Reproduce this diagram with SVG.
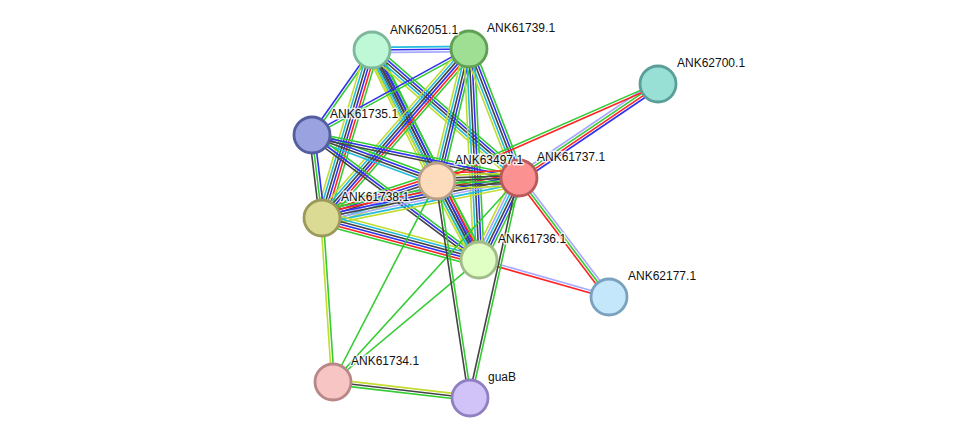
<svg xmlns="http://www.w3.org/2000/svg" width="975" height="444" viewBox="0 0 975 444">
<style>
#edges path{fill:none;stroke-width:1.6}
.g{stroke:#33cc33}.r{stroke:#ff2222}.b{stroke:#3030f0}.k{stroke:#444444}.c{stroke:#22bbdd}.y{stroke:#c2dc30}.l{stroke:#a8a8ff}
.node circle{stroke-width:2.8}
text{font-family:"Liberation Sans",Arial,sans-serif;font-size:12px;fill:#111;stroke:#fff;stroke-width:3;stroke-opacity:0.8;paint-order:stroke;stroke-linejoin:round}
</style>
<rect width="975" height="444" fill="#fff"/>
<g id="edges">
<!-- A-B -->
<g transform="translate(372,50) rotate(-0.59)"><path class="c" d="M0 -2.6H97"/><path class="b" d="M0 0H97"/><path class="l" d="M0 2.6H97"/></g>
<!-- A-D -->
<g transform="translate(372,50) rotate(125.22)"><path class="g" d="M0 -1.3H104"/><path class="b" d="M0 1.3H104"/></g>
<!-- A-G -->
<g transform="translate(372,50) rotate(106.57)"><path class="g" d="M0 -6.5H175.3"/><path class="r" d="M0 -3.9H175.3"/><path class="b" d="M0 -1.3H175.3"/><path class="k" d="M0 1.3H175.3"/><path class="c" d="M0 3.9H175.3"/><path class="y" d="M0 6.5H175.3"/></g>
<!-- A-E -->
<g transform="translate(372,50) rotate(63.61)"><path class="g" d="M0 -6.5H146.2"/><path class="b" d="M0 -3.9H146.2"/><path class="k" d="M0 -1.3H146.2"/><path class="k" d="M0 1.3H146.2"/><path class="c" d="M0 3.9H146.2"/><path class="y" d="M0 6.5H146.2"/></g>
<!-- A-H -->
<g transform="translate(372,50) rotate(63.0)"><path class="g" d="M0 -5.2H235.7"/><path class="b" d="M0 -2.6H235.7"/><path class="k" d="M0 0H235.7"/><path class="c" d="M0 2.6H235.7"/><path class="y" d="M0 5.2H235.7"/></g>
<!-- A-F -->
<g transform="translate(372,50) rotate(41.05)"><path class="g" d="M0 -5.2H194.9"/><path class="b" d="M0 -2.6H194.9"/><path class="k" d="M0 0H194.9"/><path class="c" d="M0 2.6H194.9"/><path class="y" d="M0 5.2H194.9"/></g>
<!-- B-D -->
<g transform="translate(469,49) rotate(151.29)"><path class="g" d="M0 -1.3H179"/><path class="b" d="M0 1.3H179"/></g>
<!-- B-G -->
<g transform="translate(469,49) rotate(131.02)"><path class="g" d="M0 -6.5H224"/><path class="r" d="M0 -3.9H224"/><path class="b" d="M0 -1.3H224"/><path class="k" d="M0 1.3H224"/><path class="c" d="M0 3.9H224"/><path class="y" d="M0 6.5H224"/></g>
<!-- B-E -->
<g transform="translate(469,49) rotate(103.63)"><path class="g" d="M0 -5.2H135.8"/><path class="b" d="M0 -2.6H135.8"/><path class="k" d="M0 0H135.8"/><path class="c" d="M0 2.6H135.8"/><path class="y" d="M0 5.2H135.8"/></g>
<!-- B-H -->
<g transform="translate(469,49) rotate(87.29)"><path class="g" d="M0 -5.2H211.2"/><path class="b" d="M0 -2.6H211.2"/><path class="k" d="M0 0H211.2"/><path class="c" d="M0 2.6H211.2"/><path class="y" d="M0 5.2H211.2"/></g>
<!-- B-F -->
<g transform="translate(469,49) rotate(68.82)"><path class="g" d="M0 -5.2H138.4"/><path class="b" d="M0 -2.6H138.4"/><path class="k" d="M0 0H138.4"/><path class="c" d="M0 2.6H138.4"/><path class="y" d="M0 5.2H138.4"/></g>
<!-- F-C -->
<g transform="translate(519,178) rotate(-34.07)"><path class="l" d="M0 -3.9H167.8"/><path class="g" d="M0 -1.3H167.8"/><path class="r" d="M0 1.3H167.8"/><path class="b" d="M0 3.9H167.8"/></g>
<!-- E-C -->
<g transform="translate(437,181) rotate(-23.69)"><path class="g" d="M0 -1.3H241.3"/><path class="r" d="M0 1.3H241.3"/></g>
<!-- F-I -->
<g transform="translate(519,178) rotate(52.89)"><path class="l" d="M0 -2.6H149.2"/><path class="g" d="M0 0H149.2"/><path class="r" d="M0 2.6H149.2"/></g>
<!-- H-I -->
<g transform="translate(479,260) rotate(15.89)"><path class="l" d="M0 -1.3H135.2"/><path class="r" d="M0 1.3H135.2"/></g>
<!-- D-G -->
<g transform="translate(312,135) rotate(83.13)"><path class="b" d="M0 -2.6H83.6"/><path class="g" d="M0 0H83.6"/><path class="k" d="M0 2.6H83.6"/></g>
<!-- D-E -->
<g transform="translate(312,135) rotate(20.2)"><path class="g" d="M0 -3.9H133.2"/><path class="b" d="M0 -1.3H133.2"/><path class="k" d="M0 1.3H133.2"/><path class="c" d="M0 3.9H133.2"/></g>
<!-- D-H -->
<g transform="translate(312,135) rotate(36.82)"><path class="g" d="M0 -2.6H208.6"/><path class="b" d="M0 0H208.6"/><path class="k" d="M0 2.6H208.6"/></g>
<!-- D-F -->
<g transform="translate(312,135) rotate(11.74)"><path class="g" d="M0 -2.6H211.4"/><path class="b" d="M0 0H211.4"/><path class="k" d="M0 2.6H211.4"/></g>
<!-- G-E -->
<g transform="translate(322,218) rotate(-17.84)"><path class="g" d="M0 -7.8H120.8"/><path class="r" d="M0 -5.2H120.8"/><path class="b" d="M0 -2.6H120.8"/><path class="k" d="M0 0H120.8"/><path class="l" d="M0 2.6H120.8"/><path class="c" d="M0 5.2H120.8"/><path class="y" d="M0 7.8H120.8"/></g>
<!-- G-F -->
<g transform="translate(322,218) rotate(-11.48)"><path class="g" d="M0 -7.8H201"/><path class="r" d="M0 -5.2H201"/><path class="b" d="M0 -2.6H201"/><path class="k" d="M0 0H201"/><path class="l" d="M0 2.6H201"/><path class="c" d="M0 5.2H201"/><path class="y" d="M0 7.8H201"/></g>
<!-- G-H -->
<g transform="translate(322,218) rotate(14.98)"><path class="y" d="M0 -6.5H162.5"/><path class="c" d="M0 -3.9H162.5"/><path class="k" d="M0 -1.3H162.5"/><path class="b" d="M0 1.3H162.5"/><path class="r" d="M0 3.9H162.5"/><path class="g" d="M0 6.5H162.5"/></g>
<!-- E-F -->
<g transform="translate(437,181) rotate(-2.1)"><path class="r" d="M0 -7.8H82"/><path class="y" d="M0 -5.2H82"/><path class="k" d="M0 -2.6H82"/><path class="k" d="M0 0H82"/><path class="g" d="M0 2.6H82"/><path class="k" d="M0 5.2H82"/><path class="y" d="M0 7.8H82"/></g>
<!-- E-H -->
<g transform="translate(437,181) rotate(62.0)"><path class="g" d="M0 -6.5H89.5"/><path class="r" d="M0 -3.9H89.5"/><path class="b" d="M0 -1.3H89.5"/><path class="k" d="M0 1.3H89.5"/><path class="c" d="M0 3.9H89.5"/><path class="y" d="M0 6.5H89.5"/></g>
<!-- F-H -->
<g transform="translate(519,178) rotate(116.0)"><path class="g" d="M0 -6.5H91.2"/><path class="b" d="M0 -3.9H91.2"/><path class="k" d="M0 -1.3H91.2"/><path class="c" d="M0 1.3H91.2"/><path class="l" d="M0 3.9H91.2"/><path class="y" d="M0 6.5H91.2"/></g>
<!-- G-J -->
<g transform="translate(322,218) rotate(86.16)"><path class="g" d="M0 -1.3H164.4"/><path class="y" d="M0 1.3H164.4"/></g>
<!-- J-K -->
<g transform="translate(333,382) rotate(6.66)"><path class="y" d="M0 -2.6H137.9"/><path class="k" d="M0 0H137.9"/><path class="g" d="M0 2.6H137.9"/></g>
<!-- J-E, J-F, J-H -->
<g transform="translate(333,382) rotate(-62.64)"><path class="g" d="M0 0H226.3"/></g>
<g transform="translate(333,382) rotate(-47.64)"><path class="g" d="M0 0H276.1"/></g>
<g transform="translate(333,382) rotate(-39.88)"><path class="g" d="M0 0H190.3"/></g>
<!-- E-K -->
<g transform="translate(437,181) rotate(81.35)"><path class="g" d="M0 -1.3H219.5"/><path class="k" d="M0 1.3H219.5"/></g>
<!-- F-K -->
<g transform="translate(519,178) rotate(102.56)"><path class="g" d="M0 -1.3H225.4"/><path class="k" d="M0 1.3H225.4"/></g>
</g>
<g id="n-ANK62051" class="node"><circle cx="372" cy="50" r="18" fill="#bff8d6" stroke="#7cb89c"/></g>
<g id="n-ANK61739" class="node"><circle cx="469" cy="49" r="18" fill="#9edf93" stroke="#5f9f56"/></g>
<g id="n-ANK62700" class="node"><circle cx="658" cy="84" r="18" fill="#98e0d6" stroke="#5a9e98"/></g>
<g id="n-ANK61735" class="node"><circle cx="312" cy="135" r="18" fill="#9aa3e0" stroke="#545e9e"/></g>
<g id="n-ANK63497" class="node"><circle cx="437" cy="181" r="18" fill="#fddcbd" stroke="#b89f88"/></g>
<g id="n-ANK61737" class="node"><circle cx="519" cy="178" r="18" fill="#fc9191" stroke="#b85a5a"/></g>
<g id="n-ANK61738" class="node"><circle cx="322" cy="218" r="18" fill="#dcdb96" stroke="#9b9a5b"/></g>
<g id="n-ANK61736" class="node"><circle cx="479" cy="260" r="18" fill="#e0ffc4" stroke="#a0bd88"/></g>
<g id="n-ANK62177" class="node"><circle cx="609" cy="297" r="18" fill="#c4e7fb" stroke="#7aa1bd"/></g>
<g id="n-ANK61734" class="node"><circle cx="333" cy="382" r="18" fill="#f8c5c5" stroke="#b88888"/></g>
<g id="n-guaB" class="node"><circle cx="470" cy="398" r="18" fill="#d1c2f8" stroke="#9080c2"/></g>
<g id="labels">
<text x="390" y="34">ANK62051.1</text>
<text x="487" y="32">ANK61739.1</text>
<text x="677" y="67">ANK62700.1</text>
<text x="330" y="118">ANK61735.1</text>
<text x="455" y="164">ANK63497.1</text>
<text x="537" y="161">ANK61737.1</text>
<text x="341" y="201">ANK61738.1</text>
<text x="498" y="243">ANK61736.1</text>
<text x="628" y="280">ANK62177.1</text>
<text x="351" y="365">ANK61734.1</text>
<text x="488" y="381">guaB</text>
</g>
</svg>
